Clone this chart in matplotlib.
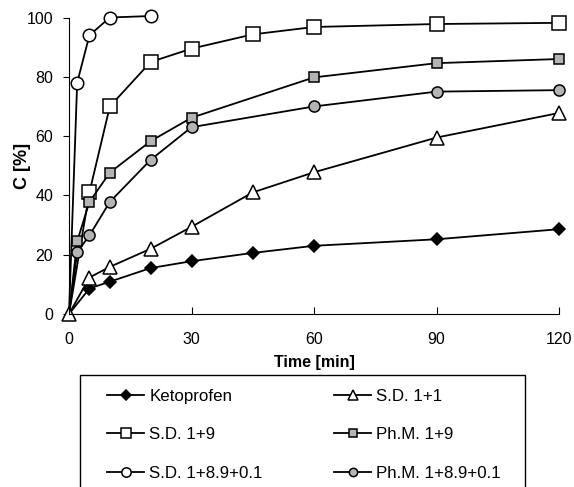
import numpy as np
import matplotlib.pyplot as plt
from matplotlib.patches import Rectangle

plt.rcParams['font.family'] = ['Liberation Sans', 'DejaVu Sans']

# ---------- data ----------

t_keto = [0, 5, 10, 20, 30, 45, 60, 90, 120]
c_keto = [0, 8.6, 10.9, 15.5, 17.8, 20.6, 23.0, 25.2, 28.6]

t_sd11 = [0, 5, 10, 20, 30, 45, 60, 90, 120]
c_sd11 = [0, 12.3, 15.9, 22.0, 29.4, 41.0, 47.8, 59.5, 67.8]

t_sd19 = [0, 5, 10, 20, 30, 45, 60, 90, 120]
c_sd19 = [0, 41.0, 70.0, 85.0, 89.5, 94.3, 96.8, 97.8, 98.2]

t_pm19 = [0, 2, 5, 10, 20, 30, 60, 90, 120]
c_pm19 = [0, 24.5, 37.8, 47.7, 58.3, 66.2, 79.8, 84.6, 86.0]

t_sd189 = [0, 2, 5, 10, 20]
c_sd189 = [0, 78.0, 94.0, 100.0, 100.5]

t_pm189 = [0, 2, 5, 10, 20, 30, 60, 90, 120]
c_pm189 = [0, 20.8, 26.5, 37.8, 52.0, 63.0, 70.0, 75.0, 75.5]

x_ticks = [0, 30, 60, 90, 120]
y_ticks = [0, 20, 40, 60, 80, 100]

# ---------- plot ----------

W, H = 574, 487
fig = plt.figure(figsize=(W / 100, H / 100), dpi=100)
ax = fig.add_axes([69 / W, 1 - 314 / H, 490 / W, 296.5 / H])

grey = '#b4b4b4'
style = dict(color='black', lw=1.3, clip_on=False, markeredgecolor='black', markeredgewidth=1.1)
skip0 = slice(1, None)  # only the triangle marker shows at the origin

l_keto, = ax.plot(t_keto, c_keto, marker='D', ms=6.5, mfc='black', markevery=skip0,
                  label='Ketoprofen', **style)
l_sd19, = ax.plot(t_sd19, c_sd19, marker='s', ms=10, mfc='white', markevery=skip0,
                  label='S.D. 1+9', **style)
l_pm19, = ax.plot(t_pm19, c_pm19, marker='s', ms=7, mfc=grey, markevery=skip0,
                  label='Ph.M. 1+9', **style)
l_sd189, = ax.plot(t_sd189, c_sd189, marker='o', ms=9, mfc='white', markevery=skip0,
                   label='S.D. 1+8.9+0.1', **style)
l_pm189, = ax.plot(t_pm189, c_pm189, marker='o', ms=8, mfc=grey, markevery=skip0,
                   label='Ph.M. 1+8.9+0.1', **style)
l_sd11, = ax.plot(t_sd11, c_sd11, marker='^', ms=9.5, mfc='white', label='S.D. 1+1', **style)

ax.set_xlim(0, 120)
ax.set_ylim(0, 100)
ax.set_xticks(x_ticks)
ax.set_yticks(y_ticks)
ax.spines['top'].set_visible(False)
ax.spines['right'].set_visible(False)
ax.tick_params(axis='x', direction='in', length=5, labelsize=11.5, pad=13)
ax.tick_params(axis='y', direction='out', length=4.5, labelsize=11.5, pad=7)
ax.set_xlabel('Time [min]', fontsize=11.5, fontweight='bold', labelpad=6)
ax.set_ylabel('C [%]', fontsize=13, fontweight='bold')
ax.yaxis.set_label_coords(-0.078, 0.5)

# legend box runs off the bottom edge of the picture
fig.patches.append(Rectangle((80 / W, -0.05), (525 - 80) / W, 0.05 + 1 - 375 / H,
                             transform=fig.transFigure, fill=False,
                             edgecolor='black', lw=1.0))

# column-major order so rows read: Ketoprofen | S.D. 1+1, ...
handles = [l_keto, l_sd19, l_sd189, l_sd11, l_pm19, l_pm189]
leg = fig.legend(handles, [h.get_label() for h in handles],
                 loc='upper left', ncol=2, bbox_to_anchor=(107 / W, 1 - 389 / H),
                 fontsize=12.2, frameon=False, handlelength=2.2,
                 labelspacing=1.38, borderpad=0.0, borderaxespad=0.0,
                 handletextpad=0.3, columnspacing=4.2)
for h in leg.legend_handles:
    h.set_markersize(h.get_markersize() * 0.75)

fig.savefig('out.png', dpi=100)
